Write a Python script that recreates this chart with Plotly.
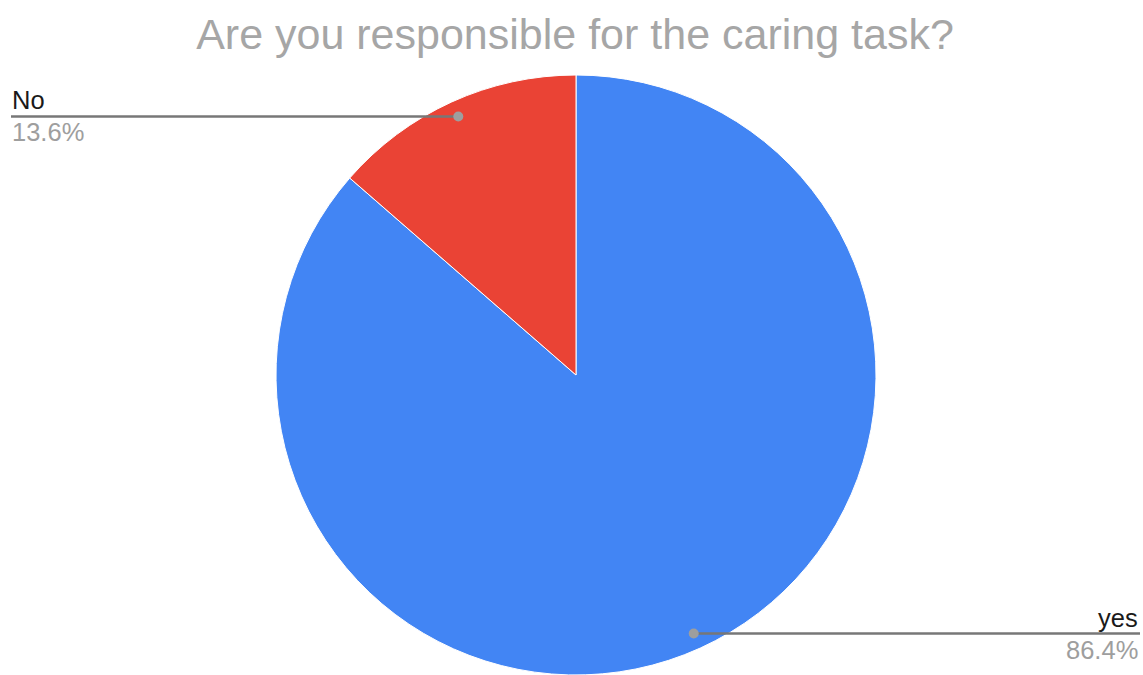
import math
import plotly.graph_objects as go

labels = ["yes", "No"]
values = [86.4, 13.6]
colors = ["#4285F4", "#EA4335"]
title = "Are you responsible for the caring task?"

W, H = 1143, 675
ml, mr, mt, mb = 276, 267, 75, 0

fig = go.Figure(go.Pie(
    labels=labels, values=values, sort=False, direction="clockwise", rotation=0,
    marker=dict(colors=colors, line=dict(color="white", width=1)),
    textinfo="none", hoverinfo="label+percent", showlegend=False,
))

total = sum(values)
shapes, annos = [], []
cum = 0.0
pw, ph = W - ml - mr, H - mt - mb
FONT = "Liberation Sans, Arial"
for lab, v in zip(labels, values):
    mid = (cum + v / 2) / total * 2 * math.pi
    cum += v
    dx = 0.5 + 0.5 * 0.947 * math.sin(mid)
    dy = 0.5 + 0.5 * 0.947 * math.cos(mid)
    left = math.sin(mid) < 0
    x_end = (11 - ml) / pw if left else (1140 - ml) / pw
    shapes.append(dict(type="line", xref="paper", yref="paper", x0=dx, y0=dy, x1=x_end, y1=dy,
                       line=dict(color="#777777", width=2.5)))
    shapes.append(dict(type="circle", xref="paper", yref="paper", xsizemode="pixel", ysizemode="pixel",
                       xanchor=dx, yanchor=dy, x0=-5, x1=5, y0=-5, y1=5,
                       fillcolor="#9E9E9E", line=dict(width=0)))
    anchor = "left" if left else "right"
    annos.append(dict(xref="paper", yref="paper", x=x_end, y=dy, text=lab, showarrow=False,
                      xanchor=anchor, yanchor="bottom", yshift=0, xshift=-1 if left else 0,
                      font=dict(family=FONT, size=25.5, color="#1A1A1A")))
    annos.append(dict(xref="paper", yref="paper", x=x_end, y=dy, text=f"{v / total * 100:.1f}%",
                      showarrow=False, xanchor=anchor, yanchor="top", yshift=0, xshift=-1 if left else 0,
                      font=dict(family=FONT, size=25.5, color="#9E9E9E")))

fig.update_layout(
    width=W, height=H,
    margin=dict(l=ml, r=mr, t=mt, b=mb),
    paper_bgcolor="white", plot_bgcolor="white",
    title=dict(text=title, x=575 / W, xanchor="center", y=1 - 19 / H, yanchor="top",
               font=dict(family=FONT, size=43, color="#A6A6A6")),
    shapes=shapes, annotations=annos,
)
fig.write_html("out.html", config={"displayModeBar": False},
               post_script="document.body.style.margin='0';document.body.style.overflow='hidden';")
